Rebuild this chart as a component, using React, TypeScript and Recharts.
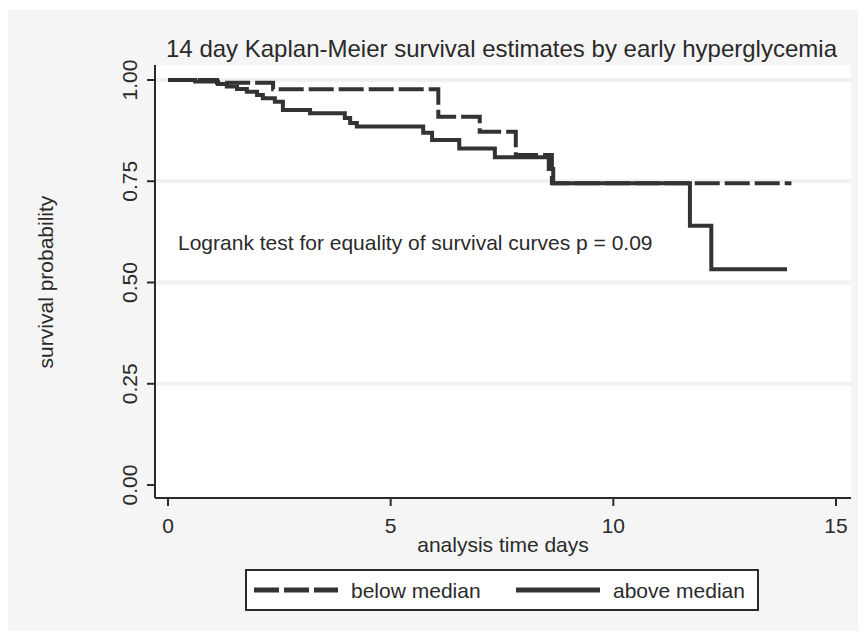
import { CartesianGrid, Legend, Line, LineChart, ReferenceLine, XAxis, YAxis } from "recharts";

// Kaplan-Meier step points (time in days, survival probability)
const belowTime = [0, 1.1, 2.36, 6.07, 7.0, 7.81, 8.62, 14.0];
const belowSurv = [1.0, 0.993, 0.977, 0.909, 0.872, 0.815, 0.745, 0.745];

const aboveTime = [0, 0.61, 1.12, 1.32, 1.55, 1.77, 2.0, 2.13, 2.4, 2.58, 3.19, 3.97, 4.09, 4.24, 5.73, 5.93, 6.54, 7.34, 8.55, 8.65, 11.72, 12.2, 13.9];
const aboveSurv = [1.0, 0.996, 0.99, 0.984, 0.978, 0.971, 0.963, 0.955, 0.946, 0.926, 0.918, 0.906, 0.894, 0.885, 0.87, 0.852, 0.831, 0.809, 0.78, 0.745, 0.64, 0.533, 0.533];

const xTicks = [0, 5, 10, 15];
const yTicks = [0, 0.25, 0.5, 0.75, 1];
const gridValues = [0.25, 0.5, 0.75, 1];
const legendOrder = ["below median", "above median"];

const belowData = belowTime.map((t, i) => ({ t, s: belowSurv[i] }));
const aboveData = aboveTime.map((t, i) => ({ t, s: aboveSurv[i] }));

const ink = "#2a2a2a";
const lineColor = "#333333";

export default function App() {
  return (
    <div style={{ position: "relative", top: 2, width: 858, height: 623, background: "#f5f5f5", fontFamily: "'Liberation Sans', Arial, sans-serif" }}>
      <LineChart width={858} height={623} margin={{ top: 55, right: 15, bottom: 105, left: 87 }}>
        <CartesianGrid vertical={false} horizontal={false} fill="#ffffff" fillOpacity={1} />
        {gridValues.map((v) => (
          <ReferenceLine key={v} y={v} stroke="#f1f1f1" strokeWidth={4} ifOverflow="extendDomain" />
        ))}
        <XAxis
          type="number"
          dataKey="t"
          domain={[-0.292, 15.337]}
          ticks={xTicks}
          allowDataOverflow
          height={30}
          tickSize={8}
          tickMargin={12}
          axisLine={{ stroke: ink, strokeWidth: 2 }}
          tickLine={{ stroke: ink, strokeWidth: 2 }}
          tick={{ fill: ink, fontSize: 21 }}
        />
        <YAxis
          type="number"
          domain={[-0.032, 1.037]}
          ticks={yTicks}
          allowDataOverflow
          width={60}
          tickSize={8}
          tickMargin={10}
          axisLine={{ stroke: ink, strokeWidth: 2 }}
          tickLine={{ stroke: ink, strokeWidth: 2 }}
          tick={<YTick />}
        />
        <Line data={belowData} dataKey="s" name="below median" type="stepAfter" stroke={lineColor} strokeWidth={4} strokeDasharray="25 5" dot={false} activeDot={false} isAnimationActive={false} />
        <Line data={aboveData} dataKey="s" name="above median" type="stepAfter" stroke={lineColor} strokeWidth={4} dot={false} activeDot={false} isAnimationActive={false} />
        <Legend verticalAlign="middle" align="center" layout="horizontal" wrapperStyle={{ left: 237, top: 559, width: 514, height: 42 }} content={<KmLegend />} />
        <text x={493.5} y={47} textAnchor="middle" fontSize={24} fill={ink}>14 day Kaplan-Meier survival estimates by early hyperglycemia</text>
        <text x={495} y={542} textAnchor="middle" fontSize={21} fill={ink}>analysis time days</text>
        <text x={44.5} y={272} textAnchor="middle" fontSize={21} fill={ink} transform="rotate(-90, 44.5, 272)">survival probability</text>
        <text x={170} y={240} fontSize={21} fill={ink}>Logrank test for equality of survival curves p = 0.09</text>
      </LineChart>
    </div>
  );
}

function YTick(props: any) {
  const { x, y, payload } = props;
  return (
    <text x={x} y={y} textAnchor="middle" fontSize={21} fill={ink} transform={`rotate(-90, ${x}, ${y})`}>
      {Number(payload.value).toFixed(2)}
    </text>
  );
}

function KmLegend(props: any) {
  const items = [...(props.payload || [])].sort((a: any, b: any) => legendOrder.indexOf(a.value) - legendOrder.indexOf(b.value));
  return (
    <div style={{ width: 514, height: 42, boxSizing: "border-box", border: `2px solid ${ink}`, background: "#ffffff", position: "relative" }}>
      {items.map((entry: any, i: number) => {
        const dashed = !!(entry.payload && entry.payload.strokeDasharray);
        const left = i === 0 ? 6 : 268;
        return (
          <div key={i} style={{ position: "absolute", left, top: 0, height: 38, display: "flex", alignItems: "center" }}>
            <svg width={86} height={10} style={{ display: "block" }}>
              <line x1={1} y1={5} x2={85} y2={5} stroke={lineColor} strokeWidth={5} strokeDasharray={dashed ? "25 5" : undefined} />
            </svg>
            <span style={{ marginLeft: 12, fontSize: 21, color: ink, lineHeight: "21px" }}>{entry.value}</span>
          </div>
        );
      })}
    </div>
  );
}
